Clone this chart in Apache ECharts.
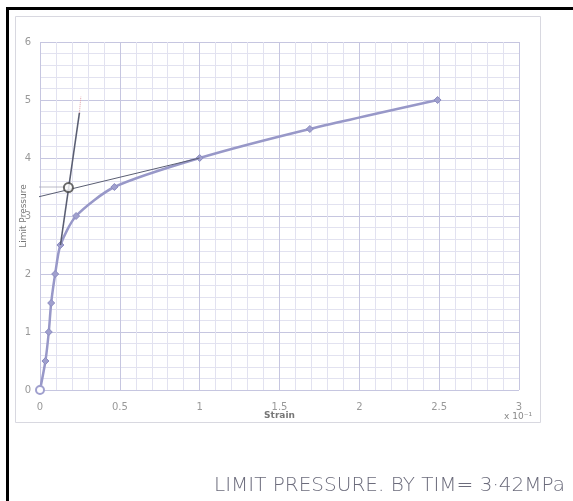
<!DOCTYPE html>
<html>
<head>
<meta charset="utf-8">
<script src="https://cdn.jsdelivr.net/npm/echarts@6/dist/echarts.min.js"></script>
<style>
  html, body { margin: 0; padding: 0; background: #fff; }
  #main { width: 573px; height: 501px; }
</style>
</head>
<body>
<div id="main"></div>
<script>
// measured curve (strain x 10^-1, limit pressure)
var strain = [0, 0.034, 0.055, 0.07, 0.095, 0.128, 0.226, 0.466, 1.0, 1.69, 2.49];
var pressure = [0, 0.5, 1.0, 1.5, 2.0, 2.5, 3.0, 3.5, 4.0, 4.5, 5.0];

// hand drawn tangent lines
var steepX = [0.128, 0.247];
var steepY = [2.5, 4.78];
var steepExtX = [0.247, 0.256];
var steepExtY = [4.78, 5.06];
var flatX = [-0.055, 1.0];
var flatY = [3.30, 4.0];
var crossX = [0.178];
var crossY = [3.49];
var guideX = [-0.03, 0.178];
var guideY = [3.5, 3.5];

var xTicks = [0, 0.5, 1, 1.5, 2, 2.5, 3];
var yTicks = [0, 1, 2, 3, 4, 5, 6];

function pairs(xs, ys) {
    return xs.map(function (x, i) { return [x, ys[i]] })
}

window.onload = function () {
    var chart = echarts.init(document.getElementById('main'));

    var curve = pairs(strain, pressure).map(function (p, i) {
        if (i === 0) {
            return { value: p, symbol: 'emptyCircle', symbolSize: 8 }
        }
        return p
    })

    var option = {
        backgroundColor: '#fff',
        animation: false,
        grid: { left: 40, right: 54, top: 42, bottom: 111, containLabel: false, outerBoundsMode: 'none' },
        xAxis: {
            type: 'value',
            min: xTicks[0],
            max: xTicks[xTicks.length - 1],
            interval: 0.5,
            name: 'Strain',
            nameLocation: 'middle',
            nameGap: 21,
            nameMoveOverlap: false,
            nameTextStyle: { color: '#777', fontSize: 9, fontWeight: 'bold', fontFamily: 'DejaVu Sans' },
            axisLine: { show: false },
            axisTick: { show: false },
            axisLabel: { color: '#999', fontSize: 10, margin: 12, fontFamily: 'DejaVu Sans' },
            splitLine: { show: true, lineStyle: { color: '#c6c6e0', width: 1 } },
            minorTick: { show: false, splitNumber: 5 },
            minorSplitLine: { show: true, lineStyle: { color: '#e2e2f0', width: 1 } }
        },
        yAxis: {
            type: 'value',
            min: yTicks[0],
            max: yTicks[yTicks.length - 1],
            interval: 1,
            name: 'Limit Pressure',
            nameLocation: 'middle',
            nameGap: 12,
            nameMoveOverlap: false,
            nameTextStyle: { color: '#777', fontSize: 9, fontFamily: 'DejaVu Sans' },
            axisLine: { show: false },
            axisTick: { show: false },
            axisLabel: { color: '#999', fontSize: 10, margin: 9, fontFamily: 'DejaVu Sans' },
            splitLine: { show: true, lineStyle: { color: '#c6c6e0', width: 1 } },
            minorTick: { show: false, splitNumber: 5 },
            minorSplitLine: { show: true, lineStyle: { color: '#e2e2f0', width: 1 } }
        },
        series: [
            {
                type: 'line',
                data: curve,
                smooth: 0.25,
                symbol: 'diamond',
                symbolSize: 7,
                lineStyle: { color: '#9898c8', width: 2.5 },
                itemStyle: { color: '#a0a0ce', borderColor: '#8c8cc0' },
                z: 3
            },
            {
                type: 'line',
                data: pairs(steepX, steepY),
                symbol: 'none',
                lineStyle: { color: '#5a5e72', width: 1.6 },
                z: 4
            },
            {
                type: 'line',
                data: pairs(steepExtX, steepExtY),
                symbol: 'none',
                lineStyle: { color: '#e0a0a8', width: 1, type: 'dotted' },
                z: 4
            },
            {
                type: 'line',
                data: pairs(flatX, flatY),
                symbol: 'none',
                clip: false,
                lineStyle: { color: '#5a5e72', width: 1 },
                z: 4
            },
            {
                type: 'line',
                data: pairs(guideX, guideY),
                symbol: 'none',
                clip: false,
                lineStyle: { color: '#a8a8b8', width: 0.8 },
                z: 2
            },
            {
                type: 'scatter',
                data: pairs(crossX, crossY),
                symbol: 'emptyCircle',
                symbolSize: 9,
                itemStyle: { color: '#444', borderColor: '#444', borderWidth: 1.2 },
                z: 5
            }
        ],
        graphic: [
            // black frame from the scan
            { type: 'rect', shape: { x: 6, y: 7, width: 567, height: 3 }, style: { fill: '#000' } },
            { type: 'rect', shape: { x: 6, y: 7, width: 3, height: 494 }, style: { fill: '#000' } },
            // chart area border
            { type: 'rect', shape: { x: 15.5, y: 16.5, width: 525, height: 406 }, style: { fill: 'none', stroke: '#d8d8e0', lineWidth: 1 }, z: -1 },
            {
                type: 'text', left: 504, top: 412,
                style: { text: 'x 10⁻¹', fill: '#888', fontSize: 9, fontFamily: 'DejaVu Sans' }
            },
            {
                type: 'text', left: 214, top: 476,
                style: { text: 'LIMIT PRESSURE. BY TIM= 3·42MPa', fill: '#6c6c7c', fontSize: 20, fontFamily: 'DejaVu Sans', fontWeight: 'lighter' }
            }
        ]
    };
    chart.setOption(option);
}
</script>
</body>
</html>
